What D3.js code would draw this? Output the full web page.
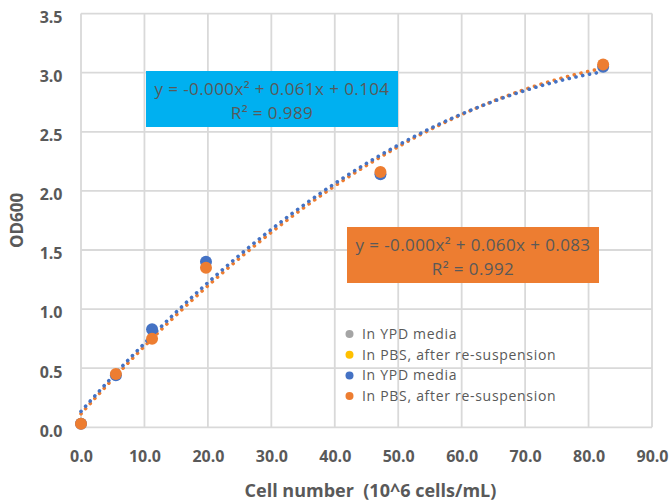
<!DOCTYPE html>
<html>
<head>
<meta charset="utf-8">
<script src="https://cdn.jsdelivr.net/npm/d3@7"></script>
<style>
  html, body { margin: 0; padding: 0; background: #fff; }
  svg { display: block; }
</style>
</head>
<body>
<div id="chart"></div>
<script>
// Cell number vs OD600, two series with quadratic (polynomial order 2) trendlines

const ypdX = [0, 5.5, 11.2, 19.7, 47.2, 82.3];
const ypdY = [0.03, 0.44, 0.83, 1.40, 2.14, 3.05];
const pbsX = [0, 5.5, 11.2, 19.7, 47.2, 82.3];
const pbsY = [0.03, 0.45, 0.75, 1.35, 2.16, 3.07];

const xTicks = [0, 10, 20, 30, 40, 50, 60, 70, 80, 90];
const yTicks = [0, 0.5, 1.0, 1.5, 2.0, 2.5, 3.0, 3.5];

const legendLabels = ["In YPD media", "In PBS, after re-suspension", "In YPD media", "In PBS, after re-suspension"];
const legendColors = ["#A5A5A5", "#FFC000", "#4472C4", "#ED7D31"];

const ypdEq = ["y = -0.000x² + 0.061x + 0.104", "R² = 0.989"];
const pbsEq = ["y = -0.000x² + 0.060x + 0.083", "R² = 0.992"];

const W = 670, H = 502;
const m = { top: 13.6, right: 18, bottom: 74.7, left: 81 };
const iw = W - m.left - m.right;
const ih = H - m.top - m.bottom;
const FONT = "'Open Sans', sans-serif";
const TXT = "#595959";

const x = d3.scaleLinear().domain([0, 90]).range([0, iw]);
const y = d3.scaleLinear().domain([0, 3.5]).range([ih, 0]);

// least squares quadratic fit, like the spreadsheet trendline
function quadFit(xs, ys) {
  const S = k => d3.sum(xs, v => Math.pow(v, k));
  const T = k => d3.sum(xs, (v, i) => Math.pow(v, k) * ys[i]);
  const A = [[S(4), S(3), S(2)], [S(3), S(2), S(1)], [S(2), S(1), xs.length]];
  const b = [T(2), T(1), T(0)];
  const det = M => M[0][0]*(M[1][1]*M[2][2]-M[1][2]*M[2][1]) - M[0][1]*(M[1][0]*M[2][2]-M[1][2]*M[2][0]) + M[0][2]*(M[1][0]*M[2][1]-M[1][1]*M[2][0]);
  const D = det(A);
  return [0, 1, 2].map(c => det(A.map((row, r) => row.map((v, j) => j === c ? b[r] : v))) / D);
}

const svg = d3.select("#chart").append("svg")
  .attr("width", W).attr("height", H);

const g = svg.append("g").attr("transform", `translate(${m.left},${m.top})`);

// grid
xTicks.forEach(t => {
  g.append("line")
    .attr("x1", x(t)).attr("x2", x(t)).attr("y1", 0).attr("y2", ih)
    .attr("stroke", "#D9D9D9").attr("stroke-width", 1.8);
});
yTicks.forEach(t => {
  g.append("line")
    .attr("x1", 0).attr("x2", iw).attr("y1", y(t)).attr("y2", y(t))
    .attr("stroke", "#D9D9D9").attr("stroke-width", 1.8);
});

// tick labels
const xAxisG = g.append("g")
  .attr("transform", `translate(0,${ih})`)
  .call(d3.axisBottom(x).tickValues(xTicks).tickFormat(d3.format(".1f")).tickSize(0).tickPadding(23));
const yAxisG = g.append("g")
  .call(d3.axisLeft(y).tickValues(yTicks).tickFormat(d3.format(".1f")).tickSize(0).tickPadding(18.5));
[xAxisG, yAxisG].forEach(a => {
  a.select(".domain").remove();
  a.selectAll("text")
    .attr("fill", TXT).attr("font-size", "16px").attr("font-weight", "bold")
    .attr("font-family", FONT);
});
yAxisG.selectAll("text").attr("dy", "0.55em");

// axis titles
svg.append("text")
  .attr("x", m.left + iw / 2 + 4).attr("y", 497)
  .attr("text-anchor", "middle").attr("fill", TXT)
  .attr("font-size", "18px").attr("font-weight", "bold").attr("font-family", FONT)
  .attr("xml:space", "preserve")
  .text("Cell number  (10^6 cells/mL)");
svg.append("text")
  .attr("transform", `translate(23,${m.top + ih / 2}) rotate(-90)`)
  .attr("text-anchor", "middle").attr("fill", TXT)
  .attr("font-size", "17px").attr("font-weight", "bold").attr("font-family", FONT)
  .text("OD600");

// trendlines
function trend(xs, ys, color) {
  const [a, b, c] = quadFit(xs, ys);
  const pts = d3.range(0, d3.max(xs) + 0.01, 0.25).map(v => [v, a * v * v + b * v + c]);
  g.append("path")
    .datum(pts)
    .attr("d", d3.line().x(d => x(d[0])).y(d => y(d[1])))
    .attr("fill", "none").attr("stroke", color)
    .attr("stroke-width", 3.6).attr("stroke-linecap", "round")
    .attr("stroke-dasharray", "0.1 6.8");
}
trend(pbsX, pbsY, "#ED7D31");
trend(ypdX, ypdY, "#4472C4");

// markers
function markers(xs, ys, color) {
  xs.forEach((v, i) => {
    g.append("circle")
      .attr("cx", x(v)).attr("cy", y(ys[i])).attr("r", 6)
      .attr("fill", color);
  });
}
markers(ypdX, ypdY, "#4472C4");
markers(pbsX, pbsY, "#ED7D31");

// equation boxes
function eqBox(lines, fill, bx, by, bw, bh) {
  svg.append("rect")
    .attr("x", bx).attr("y", by).attr("width", bw).attr("height", bh)
    .attr("fill", fill);
  lines.forEach((s, i) => {
    svg.append("text")
      .attr("x", bx + bw / 2).attr("y", by + 24 + i * 24)
      .attr("text-anchor", "middle").attr("fill", TXT)
      .attr("font-size", "17px").attr("letter-spacing", "0.4px").attr("font-family", FONT)
      .text(s);
  });
}
eqBox(ypdEq, "#00B0F0", 146, 71, 252, 56);
eqBox(pbsEq, "#ED7D31", 347, 227, 252, 56);

// legend
legendLabels.forEach((s, i) => {
  const ly = 334 + i * 20.7;
  svg.append("circle")
    .attr("cx", 349.5).attr("cy", ly).attr("r", 4)
    .attr("fill", legendColors[i]);
  svg.append("text")
    .attr("x", 362).attr("y", ly).attr("dy", "0.36em")
    .attr("fill", TXT).attr("font-size", "14px").attr("letter-spacing", "0.7px").attr("font-family", FONT)
    .text(s);
});
</script>
</body>
</html>
